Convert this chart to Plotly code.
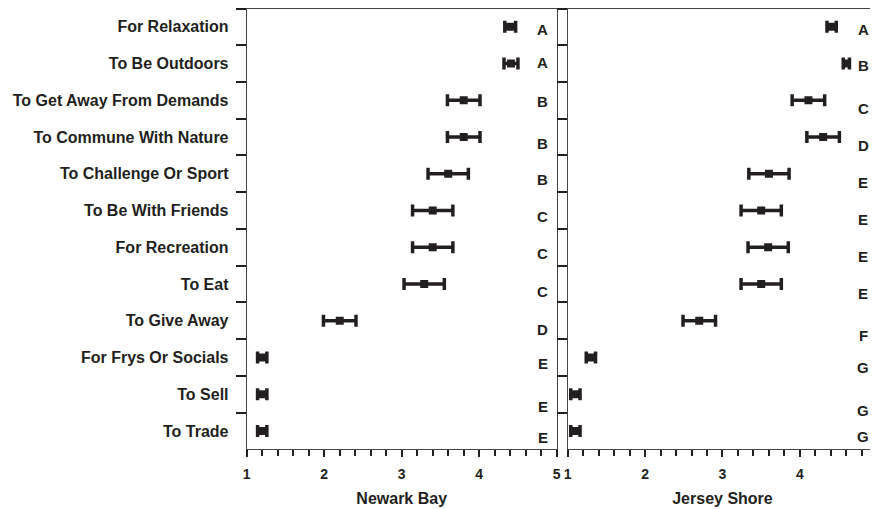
import plotly.graph_objects as go

categories = ["For Relaxation", "To Be Outdoors", "To Get Away From Demands",
              "To Commune With Nature", "To Challenge Or Sport", "To Be With Friends",
              "For Recreation", "To Eat", "To Give Away", "For Frys Or Socials",
              "To Sell", "To Trade"]
newark_mean = [4.40, 4.41, 3.80, 3.80, 3.60, 3.40, 3.40, 3.29, 2.20, 1.20, 1.20, 1.20]
newark_err = [0.07, 0.09, 0.21, 0.21, 0.26, 0.26, 0.26, 0.26, 0.21, 0.06, 0.06, 0.06]
newark_grp = ["A", "A", "B", "B", "B", "C", "C", "C", "D", "E", "E", "E"]
shore_mean = [4.41, 4.60, 4.11, 4.30, 3.60, 3.50, 3.59, 3.50, 2.70, 1.30, 1.10, 1.10]
shore_err = [0.06, 0.04, 0.21, 0.21, 0.26, 0.26, 0.26, 0.26, 0.21, 0.06, 0.06, 0.06]
shore_grp = ["A", "B", "C", "D", "E", "E", "E", "E", "F", "G", "G", "G"]
x_ticks = [1, 2, 3, 4, 5]
panel_titles = ["Newark Bay", "Jersey Shore"]

# layout-only details (pixel shifts of group letters)
newark_letter_shift = [3, -1, 1, 6, 6, 6, 6, 8, 9, 6, 12, 7]
shore_letter_shift = [3, 2, 8, 8, 9, 9, 9, 10, 15, 10, 16, 6]

INK = "#231f20"
FONT = "Liberation Sans, Arial, sans-serif"

fig = go.Figure()
panels = [(newark_mean, newark_err, newark_grp, newark_letter_shift, "x", "y"),
          (shore_mean, shore_err, shore_grp, shore_letter_shift, "x2", "y2")]
for mean, err, grp, shift, xa, ya in panels:
    fig.add_trace(go.Scatter(
        x=mean, y=categories, mode="markers", xaxis=xa, yaxis=ya,
        marker=dict(symbol="square", size=8, color=INK),
        error_x=dict(type="data", array=err, visible=True, color=INK,
                     thickness=3.5, width=6),
        showlegend=False, hoverinfo="skip"))
    for c, g, s in zip(categories, grp, shift):
        fig.add_annotation(x=4.82, y=c, xref=xa, yref=ya, text=f"<b>{g}</b>",
                           showarrow=False, yshift=-s,
                           font=dict(family=FONT, size=15, color=INK))

xcommon = dict(range=[1, 5], tickvals=x_ticks,
               ticktext=[f"<b>{t}</b>" for t in x_ticks],
               ticks="outside", ticklen=7, automargin=False,
               ticklabeloverflow="allow",
               tickwidth=2, tickcolor=INK, showline=True, linecolor="#444",
               linewidth=1, mirror=True, showgrid=False, zeroline=False,
               tickfont=dict(family=FONT, size=14, color=INK),
               ticklabelstandoff=5,
               minor=dict(dtick=0.2, ticks="outside", ticklen=6, tickwidth=2,
                          tickcolor=INK, showgrid=False))
ycommon = dict(type="category", categoryorder="array", categoryarray=categories,
               range=[11.5, -0.5], tickson="boundaries", ticks="outside",
               ticklen=10, tickwidth=2, tickcolor=INK, showline=True,
               linecolor="#444", linewidth=1, mirror=True, showgrid=False,
               zeroline=False, automargin=False)

fig.update_layout(
    width=870, height=501, margin=dict(l=0, r=0, t=0, b=0, autoexpand=False),
    paper_bgcolor="white", plot_bgcolor="white",
    font=dict(family=FONT, color=INK),
    xaxis=dict(domain=[0.2744, 0.6307], anchor="y",
               title=dict(text=f"<b>{panel_titles[0]}</b>", standoff=11,
                          font=dict(family=FONT, size=16, color=INK)),
               **xcommon),
    xaxis2=dict(domain=[0.6433, 0.9992], anchor="y2",
                title=dict(text=f"<b>{panel_titles[1]}</b>", standoff=11,
                           font=dict(family=FONT, size=16, color=INK)),
                **xcommon),
    yaxis=dict(domain=[0.1192, 0.9990], anchor="x",
               tickfont=dict(family=FONT, size=16, color=INK),
               ticktext=[f"<b>{c}</b>" for c in categories], tickvals=categories,
               ticklabelstandoff=14, **ycommon),
    yaxis2=dict(domain=[0.1192, 0.9990], anchor="x2", showticklabels=False,
                **ycommon),
)

fig.write_html("out.html")
